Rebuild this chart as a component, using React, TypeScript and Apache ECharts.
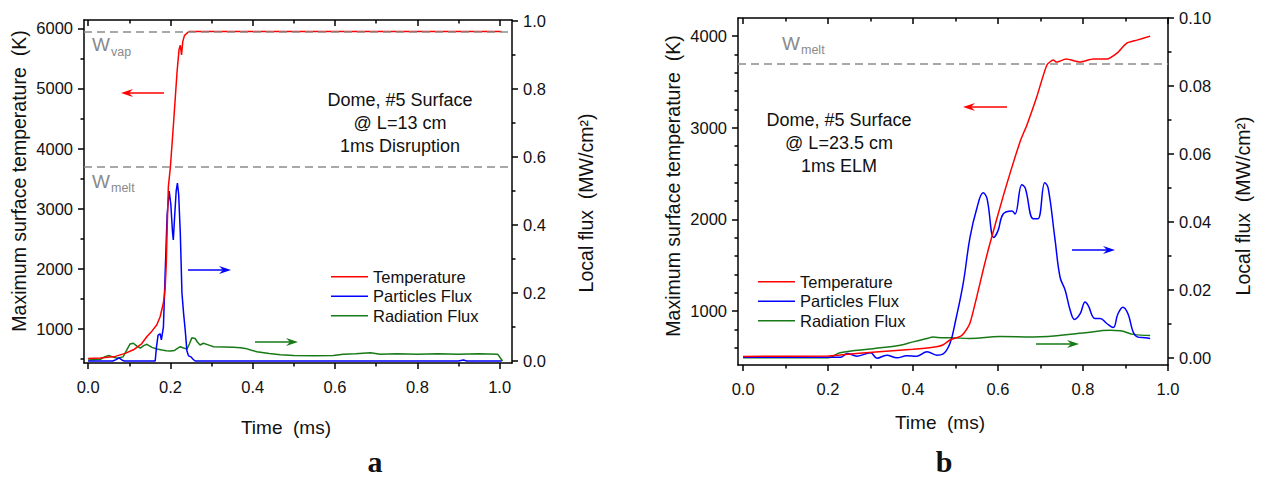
import React, { useEffect, useRef } from "react";
import * as echarts from "echarts";

const FONT = "'Liberation Sans', Arial, sans-serif";
const SERIF = "'Liberation Serif', 'Times New Roman', serif";

// ---------- Panel a : 1 ms disruption ----------
const timeTempA = [0, 0.03, 0.066, 0.09, 0.11, 0.13, 0.143, 0.155, 0.167, 0.175, 0.183, 0.187, 0.19, 0.192, 0.195, 0.2, 0.207, 0.216, 0.221, 0.224, 0.227, 0.23, 0.234, 0.24, 0.246, 0.3, 0.5, 0.7, 0.9, 1.005];
const tempA = [505, 515, 540, 590, 650, 750, 872, 960, 1067, 1200, 1433, 1650, 2100, 2650, 3367, 3700, 4367, 5267, 5650, 5720, 5560, 5780, 5880, 5920, 5950, 5950, 5950, 5950, 5950, 5950];

const timePartA = [0, 0.06, 0.068, 0.075, 0.082, 0.088, 0.163, 0.166, 0.17, 0.175, 0.178, 0.183, 0.187, 0.192, 0.197, 0.201, 0.205, 0.207, 0.21, 0.214, 0.217, 0.22, 0.224, 0.228, 0.232, 0.236, 0.24, 0.244, 0.25, 0.255, 0.26, 0.9, 0.912, 0.92, 1.005];
const partA = [0, 0, 0.004, 0.009, 0.003, 0, 0, 0.04, 0.076, 0.08, 0.062, 0.1, 0.25, 0.43, 0.5, 0.46, 0.38, 0.356, 0.42, 0.5, 0.523, 0.49, 0.376, 0.2, 0.14, 0.09, 0.03, 0.015, 0.012, 0.005, 0, 0, 0.003, 0, 0];

const timeRadA = [0, 0.03, 0.04, 0.05, 0.06, 0.07, 0.085, 0.095, 0.102, 0.11, 0.12, 0.127, 0.135, 0.143, 0.155, 0.167, 0.18, 0.19, 0.2, 0.21, 0.218, 0.224, 0.232, 0.24, 0.246, 0.252, 0.26, 0.266, 0.272, 0.28, 0.29, 0.305, 0.33, 0.353, 0.37, 0.382, 0.395, 0.41, 0.44, 0.467, 0.5, 0.55, 0.596, 0.62, 0.65, 0.686, 0.71, 0.75, 0.8, 0.85, 0.9, 0.95, 0.995, 1.007];
const radA = [0.003, 0.005, 0.012, 0.016, 0.012, 0.008, 0.012, 0.035, 0.05, 0.052, 0.042, 0.038, 0.045, 0.049, 0.04, 0.035, 0.032, 0.03, 0.029, 0.031, 0.038, 0.042, 0.038, 0.035, 0.05, 0.068, 0.066, 0.055, 0.047, 0.052, 0.048, 0.042, 0.041, 0.04, 0.039, 0.037, 0.032, 0.027, 0.022, 0.018, 0.016, 0.015, 0.016, 0.02, 0.021, 0.024, 0.02, 0.021, 0.02, 0.021, 0.02, 0.021, 0.02, 0.0];

// ---------- Panel b : 1 ms ELM ----------
const timeTempB = [0, 0.2, 0.228, 0.32, 0.4, 0.447, 0.47, 0.487, 0.51, 0.52, 0.534, 0.55, 0.565, 0.58, 0.612, 0.652, 0.668, 0.691, 0.715, 0.73, 0.738, 0.76, 0.793, 0.824, 0.856, 0.88, 0.903, 0.927, 0.958];
const tempB = [505, 510, 520, 556, 582, 604, 629, 684, 720, 760, 869, 1156, 1447, 1720, 2250, 2850, 3030, 3334, 3683, 3737, 3715, 3748, 3715, 3748, 3748, 3813, 3922, 3955, 3998];

const timePartB = [0, 0.23, 0.245, 0.268, 0.3, 0.315, 0.338, 0.362, 0.385, 0.409, 0.433, 0.456, 0.47, 0.487, 0.5, 0.518, 0.534, 0.55, 0.565, 0.574, 0.59, 0.6, 0.612, 0.633, 0.64, 0.656, 0.664, 0.683, 0.694, 0.71, 0.718, 0.734, 0.746, 0.758, 0.77, 0.78, 0.793, 0.805, 0.812, 0.828, 0.84, 0.856, 0.871, 0.882, 0.894, 0.906, 0.918, 0.929, 0.946, 0.958];
const partB = [0.0003, 0.0003, 0.0014, 0.0006, 0.0016, 0.0, 0.0009, 0.0001, 0.0007, 0.0006, 0.0019, 0.0009, 0.0012, 0.0044, 0.011, 0.022, 0.0355, 0.044, 0.0486, 0.047, 0.0355, 0.0375, 0.0424, 0.0433, 0.0424, 0.051, 0.05, 0.041, 0.041, 0.0516, 0.05, 0.035, 0.0238, 0.02, 0.014, 0.0114, 0.013, 0.0165, 0.0155, 0.0117, 0.0117, 0.0102, 0.009, 0.013, 0.015, 0.013, 0.0077, 0.0062, 0.006, 0.0058];

const timeRadB = [0, 0.2, 0.228, 0.306, 0.37, 0.4, 0.433, 0.447, 0.47, 0.487, 0.534, 0.605, 0.683, 0.8, 0.864, 0.887, 0.918, 0.958];
const radB = [0.0001, 0.0001, 0.0016, 0.0028, 0.0038, 0.0048, 0.0058, 0.0062, 0.006, 0.006, 0.0058, 0.0064, 0.0062, 0.0074, 0.0082, 0.0081, 0.007, 0.0067];

// reference levels
const vapLevel = 5950;
const meltLevel = 3700;

// ticks
const xTicks = [0, 0.2, 0.4, 0.6, 0.8, 1.0];
const xMinor = [0.1, 0.3, 0.5, 0.7, 0.9];
const tempTicksA = [1000, 2000, 3000, 4000, 5000, 6000];
const tempMinorA = [500, 1500, 2500, 3500, 4500, 5500];
const fluxTicksA = [0, 0.2, 0.4, 0.6, 0.8, 1.0];
const fluxMinorA = [0.1, 0.3, 0.5, 0.7, 0.9];
const tempTicksB = [1000, 2000, 3000, 4000];
const tempMinorB = [600, 800, 1200, 1400, 1600, 1800, 2200, 2400, 2600, 2800, 3200, 3400, 3600, 3800];
const fluxTicksB = [0, 0.02, 0.04, 0.06, 0.08, 0.1];
const fluxMinorB = [0.01, 0.03, 0.05, 0.07, 0.09];

const seriesNames = ["Temperature", "Particles Flux", "Radiation Flux"];
const RED = "#ff0000";
const BLUE = "#0000ff";
const GREEN = "#177a17";

const pairs = (xs: number[], ys: number[]) => xs.map((x, i) => [x, ys[i]]);

const LINE = { color: "#000", width: 1.5 };
const TICK_FONT = 16.5;

function makeX(gridIndex: number, min: number, max: number, position: string, ticks: number[], len: number, inside: boolean, labels: boolean, line: boolean) {
  return {
    type: "value", gridIndex, min, max, position,
    axisLine: { show: line, onZero: false, lineStyle: LINE },
    axisTick: { show: true, inside, length: len, customValues: ticks, lineStyle: LINE },
    axisLabel: { show: labels, customValues: ticks, formatter: (v: number) => v.toFixed(1), fontSize: TICK_FONT, color: "#111", fontFamily: FONT, margin: 15 },
    splitLine: { show: false },
  };
}

function makeY(gridIndex: number, min: number, max: number, position: string, ticks: number[], len: number, labels: boolean, line: boolean, digits: number) {
  return {
    type: "value", gridIndex, min, max, position,
    axisLine: { show: line, onZero: false, lineStyle: LINE },
    axisTick: { show: true, inside: false, length: len, customValues: ticks, lineStyle: LINE },
    axisLabel: { show: labels, customValues: ticks, formatter: (v: number) => v.toFixed(digits), fontSize: TICK_FONT, color: "#111", fontFamily: FONT, margin: 11 },
    splitLine: { show: false },
  };
}

function lineSeries(name: string, data: number[][], color: string, xi: number, yi: number, extra: any = {}) {
  return {
    name, type: "line", data, xAxisIndex: xi, yAxisIndex: yi,
    showSymbol: false, symbol: "none", smooth: false,
    lineStyle: { color, width: 1.5 }, itemStyle: { color },
    silent: true, z: 2, ...extra,
  };
}

function melt(levels: number[]) {
  return {
    markLine: {
      silent: true, symbol: ["none", "none"], label: { show: false },
      lineStyle: { color: "#8c8c8c", type: [8, 5], width: 1.5 },
      data: levels.map((v) => ({ yAxis: v })),
    },
  };
}

function arrow(tail: number, head: number, y: number, color: string) {
  const d = head > tail ? 1 : -1;
  return {
    type: "group",
    children: [
      { type: "line", shape: { x1: tail, y1: y, x2: head - d * 6, y2: y }, style: { stroke: color, lineWidth: 1.6 } },
      { type: "polygon", shape: { points: [[head, y], [head - d * 12, y - 4], [head - d * 8, y], [head - d * 12, y + 4]] }, style: { fill: color } },
    ],
  };
}

function txt(text: string, x: number, y: number, size: number, opts: any = {}) {
  return {
    type: "text", x, y, rotation: opts.rotation || 0,
    style: {
      text, fill: opts.fill || "#111",
      font: `${opts.weight || "normal"} ${size}px ${opts.family || FONT}`,
      align: opts.align || "center", verticalAlign: opts.va || "middle",
      lineHeight: opts.lineHeight,
    },
  };
}

export default function App() {
  const ref = useRef<HTMLDivElement>(null);
  useEffect(() => {
    if (!ref.current) return;
    const chart = echarts.init(ref.current, undefined, { renderer: "svg" });
    const legendText = { fontSize: 16.5, color: "#111", fontFamily: FONT, lineHeight: 19.5 };
    const legendBase = {
      data: seriesNames, orient: "vertical", icon: "rect", itemWidth: 37, itemHeight: 1.6,
      itemGap: 0, selectedMode: false, textStyle: legendText,
    };
    chart.setOption({
      animation: false,
      backgroundColor: "#fff",
      grid: [
        { left: 84, top: 20, width: 428, height: 343, containLabel: false },
        { left: 738, top: 18, width: 430, height: 347, containLabel: false },
      ],
      xAxis: [
        makeX(0, -0.01, 1.03, "bottom", xTicks, 6, false, true, true),
        makeX(0, -0.01, 1.03, "bottom", xMinor, 3.5, false, false, false),
        makeX(0, -0.01, 1.03, "top", xTicks, 6, true, false, true),
        makeX(0, -0.01, 1.03, "top", xMinor, 3.5, true, false, false),
        makeX(1, -0.012, 1.0, "bottom", xTicks, 6, false, true, true),
        makeX(1, -0.012, 1.0, "bottom", xMinor, 3.5, false, false, false),
        makeX(1, -0.012, 1.0, "top", xTicks, 6, true, false, true),
        makeX(1, -0.012, 1.0, "top", xMinor, 3.5, true, false, false),
      ],
      yAxis: [
        makeY(0, 430, 6140, "left", tempTicksA, 6, true, true, 0),
        makeY(0, 430, 6140, "left", tempMinorA, 3.5, false, false, 0),
        makeY(0, -0.006, 1.003, "right", fluxTicksA, 6, true, true, 1),
        makeY(0, -0.006, 1.003, "right", fluxMinorA, 3.5, false, false, 1),
        makeY(1, 411, 4196, "left", tempTicksB, 6, true, true, 0),
        makeY(1, 411, 4196, "left", tempMinorB, 3.5, false, false, 0),
        makeY(1, -0.002, 0.1, "right", fluxTicksB, 6, true, true, 2),
        makeY(1, -0.002, 0.1, "right", fluxMinorB, 3.5, false, false, 2),
      ],
      legend: [
        { ...legendBase, left: 326, top: 262 },
        { ...legendBase, left: 753, top: 267 },
      ],
      series: [
        lineSeries("Radiation Flux", pairs(timeRadA, radA), GREEN, 0, 2),
        lineSeries("Particles Flux", pairs(timePartA, partA), BLUE, 0, 2),
        lineSeries("Temperature", pairs(timeTempA, tempA), RED, 0, 0, melt([vapLevel, meltLevel])),
        lineSeries("Radiation Flux", pairs(timeRadB, radB), GREEN, 4, 6, { smooth: 0.4 }),
        lineSeries("Particles Flux", pairs(timePartB, partB), BLUE, 4, 6, { smooth: 0.4 }),
        lineSeries("Temperature", pairs(timeTempB, tempB), RED, 4, 4, { smooth: 0.2, ...melt([meltLevel]) }),
      ],
      graphic: [
        // axis titles
        txt("Maximum surface temperature  (K)", 18.5, 181, 19.5, { rotation: Math.PI / 2 }),
        txt("Local flux  (MW/cm²)", 586, 203, 19.5, { rotation: Math.PI / 2 }),
        txt("Time  (ms)", 286, 427, 19),
        txt("Maximum surface temperature  (K)", 673, 186, 19.5, { rotation: Math.PI / 2 }),
        txt("Local flux  (MW/cm²)", 1243, 206, 19.5, { rotation: Math.PI / 2 }),
        txt("Time  (ms)", 940, 422, 19),
        // panel letters
        txt("a", 375, 461, 30, { weight: "bold", family: SERIF }),
        txt("b", 944, 461, 30, { weight: "bold", family: SERIF }),
        // annotations
        txt("Dome, #5 Surface\n@ L=13 cm\n1ms Disruption", 400, 88.5, 18, { va: "top", lineHeight: 23 }),
        txt("Dome, #5 Surface\n@ L=23.5 cm\n1ms ELM", 839, 108.5, 18, { va: "top", lineHeight: 23 }),
        // W labels
        txt("W", 92, 44, 19, { align: "left", fill: "#8a8a8a" }),
        txt("vap", 111, 52, 12.5, { align: "left", fill: "#8a8a8a" }),
        txt("W", 92, 181, 19, { align: "left", fill: "#8a8a8a" }),
        txt("melt", 111, 188, 12.5, { align: "left", fill: "#8a8a8a" }),
        txt("W", 782, 43, 19, { align: "left", fill: "#8a8a8a" }),
        txt("melt", 801, 50, 12.5, { align: "left", fill: "#8a8a8a" }),
        // arrows
        arrow(164, 121, 93, RED),
        arrow(188, 231, 270, BLUE),
        arrow(255, 298, 342, GREEN),
        arrow(1007, 963, 107, RED),
        arrow(1072, 1115, 250, BLUE),
        arrow(1036, 1079, 344, GREEN),
      ],
    });
    return () => chart.dispose();
  }, []);
  return (
    <div
      ref={ref}
      style={{ position: "fixed", left: 0, top: 0, width: 1265, height: 479, background: "#fff" }}
    />
  );
}
